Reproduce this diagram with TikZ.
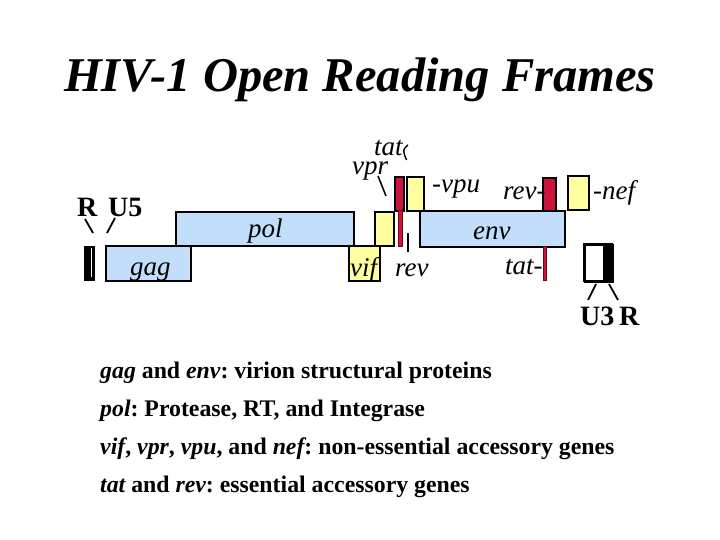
\documentclass[tikz,border=0pt]{standalone}
\usepackage{fontspec}
\setmainfont{Liberation Serif}
\frenchspacing
\definecolor{genblue}{RGB}{195,222,250}
\definecolor{genyellow}{RGB}{255,255,160}
\definecolor{genred}{RGB}{205,20,60}
\definecolor{darkred}{RGB}{110,10,20}
\tikzset{
  genebox/.style={draw=black, line width=1.6pt, inner sep=0pt, anchor=north west},
  bluebox/.style={genebox, fill=genblue},
  yellowbox/.style={genebox, fill=genyellow},
  redbox/.style={genebox, fill=genred},
  thinred/.style={draw=darkred, line width=0.8pt, fill=genred, inner sep=0pt, anchor=north west},
  glabel/.style={inner sep=0pt, anchor=base west, font=\fontsize{27}{27}\selectfont\itshape},
  blabel/.style={inner sep=0pt, anchor=base west, font=\fontsize{28}{28}\selectfont\bfseries},
  legend/.style={inner sep=0pt, anchor=base west, font=\fontsize{23.8}{23.8}\selectfont\bfseries},
  tick/.style={line width=1.8pt}
}
\begin{document}
\begin{tikzpicture}[x=1pt,y=-1pt]
\useasboundingbox (0,0) rectangle (720,540);
% title
\node[inner sep=0pt, anchor=base, font=\fontsize{48.5}{48.5}\selectfont\bfseries\itshape] (title) at (360,92) {HIV-1 Open Reading Frames};

% R/U5 bar
\node[genebox, fill=black, draw=none, minimum width=11pt, minimum height=35pt] (ltr) at (83,245) {};
\draw[white, line width=1pt] (91.5,248) -- (91.5,277);
\node[blabel] (R) at (77,217) {R};
\node[blabel] (U5) at (108,217) {U5};
\coordinate (rt) at (85,219); \coordinate (rb) at (93,233);
\coordinate (ut) at (115,218); \coordinate (ub) at (107,233);
\draw[tick] (rt) -- (rb);
\draw[tick] (ut) -- (ub);

% big boxes
\node[bluebox, minimum width=178pt, minimum height=34pt] (pol) at (175,211) {};
\node[bluebox, minimum width=85pt, minimum height=35pt] (gag) at (105,245) {};
\node[yellowbox, minimum width=31pt, minimum height=35pt] (vif) at (348,245) {};
\node[yellowbox, minimum width=19pt, minimum height=34pt] (vpr) at (374,211) {};
\node[redbox, minimum width=9pt, minimum height=34pt] (tatA) at (394,176) {};
\node[thinred, minimum width=4pt, minimum height=36pt] (tatA2) at (397.5,210) {};
\node[yellowbox, minimum width=17pt, minimum height=34pt] (vpu) at (406,176) {};
\node[bluebox, minimum width=145pt, minimum height=36pt] (env) at (419,210) {};
\node[redbox, minimum width=13pt, minimum height=33pt] (revB) at (542,177) {};
\node[yellowbox, minimum width=21pt, minimum height=34pt] (nef) at (567,175) {};
\node[thinred, minimum width=3.5pt, minimum height=34pt] (tatB) at (542.5,246) {};

% U3R box
\node[genebox, fill=white, minimum width=28pt, minimum height=37pt] (ltr2) at (584,244) {};
\fill[black] (603,244) rectangle (612,281);
\draw[line width=1.6pt] (584,244) rectangle (612,281);
\coordinate (u3t) at (596,284); \coordinate (u3b) at (588,300);
\coordinate (r3t) at (609,284); \coordinate (r3b) at (618,300);
\draw[tick] (u3t) -- (u3b);
\draw[tick] (r3t) -- (r3b);
\node[blabel] (U3R) at (580,325) {U3\,R};

% gene labels
\node[glabel] (gagL) at (130,275) {gag};
\node[glabel] (polL) at (248,237) {pol};
\node[glabel] (vifL) at (350,276) {vif};
\node[glabel] (revL) at (395,276) {rev};
\node[glabel, text depth=0pt] (tatL) at (374,156) {tat};
\node[glabel, text height=13pt] (vprL) at (352,175) {vpr};
\node[glabel] (vpuL) at (432,193) {-vpu};
\node[glabel] (revR) at (503,200) {rev-};
\node[glabel] (nefL) at (593,200) {-nef};
\node[glabel] (envL) at (473,240) {env};
\node[glabel] (tatR) at (505,274) {tat-};
\coordinate (revlt) at (408,233); \coordinate (revlb) at (408,252);
\draw[line width=1.8pt] (revlt) -- (revlb);
\coordinate (vprt) at (378,176); \coordinate (vprb) at (386,196);
\draw[line width=1.5pt] (vprt) -- (vprb);
\coordinate (tath1) at (408,145); \coordinate (tath2) at (406.5,160);
\draw[line width=1.4pt] (tath1) .. controls (402.5,150) .. (tath2);

% legend
\node[legend] (l1) at (100,378) {{\itshape gag} and {\itshape env}: virion structural proteins};
\node[legend] (l2) at (100,416) {{\itshape pol}: Protease, RT, and Integrase};
\node[legend] (l3) at (100,454) {{\itshape vif}, {\itshape vpr}, {\itshape vpu}, and {\itshape nef}: non-essential accessory genes};
\node[legend] (l4) at (100,492) {{\itshape tat} and {\itshape rev}: essential accessory genes};
\end{tikzpicture}
\end{document}
